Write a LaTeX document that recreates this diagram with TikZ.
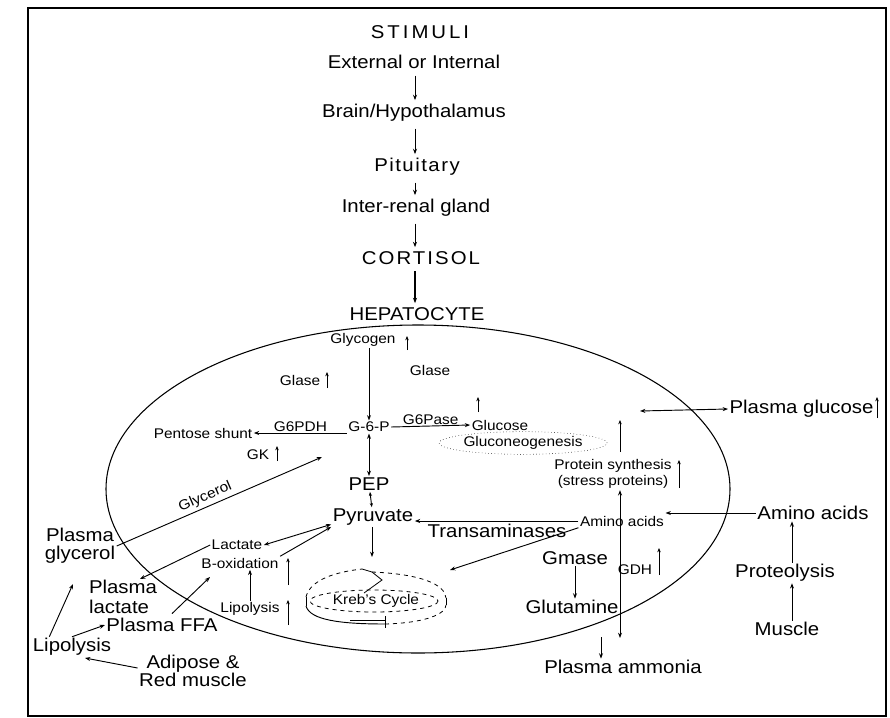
\documentclass[tikz,border=0pt]{standalone}
\usepackage{fontspec}
\setmainfont{Liberation Sans}[FakeStretch=1.1]
\usetikzlibrary{arrows.meta,calc,shapes.geometric}
\begin{document}
\begin{tikzpicture}[x=0.75pt,y=-0.75pt,
  big/.style={font=\fontsize{13.9}{14}\selectfont, inner sep=1pt},
  small/.style={font=\fontsize{10.5}{12}\selectfont, inner sep=1pt},
  flow/.style={line width=0.7pt, -{Stealth[length=4pt,width=3pt]}},
  both/.style={line width=0.7pt, {Stealth[length=4pt,width=3pt]}-{Stealth[length=4pt,width=3pt]}},
  bothsmall/.style={line width=0.7pt, {Stealth[length=3pt,width=2.4pt]}-{Stealth[length=3pt,width=2.4pt]}},
  rise/.style={line width=0.7pt, -{Stealth[length=3.2pt,width=2.6pt]}},
  casc/.style={flow, shorten <=4pt, shorten >=2pt},
  ring/.style={line width=0.6pt},
]
\useasboundingbox (0,0) rectangle (890,718);
\draw[line width=1pt] (28,8) rectangle (886,716);

% ---------- hormonal cascade ----------
\node[big] (stim)  at (420,32)  {\addfontfeatures{LetterSpace=16}STIMULI};
\node[big] (ext)   at (414,62)  {External or Internal};
\node[big] (brain) at (414,113) {Brain/Hypothalamus};
\node[big] (pit)   at (417,167) {\addfontfeatures{LetterSpace=8}Pituitary};
\node[big] (inter) at (416,208) {Inter-renal gland};
\node[big] (cort)  at (421,258) {\addfontfeatures{LetterSpace=11}CORTISOL};
\node[big] (hep)   at (417,314) {HEPATOCYTE};
\coordinate (axis) at (415,0);
\draw[casc] (ext.south -| axis)   -- (brain.north -| axis);
\draw[casc] (brain.south -| axis) -- (pit.north -| axis);
\draw[casc] (pit.south -| axis)   -- (inter.north -| axis);
\draw[casc] (inter.south -| axis) -- (cort.north -| axis);
\draw[casc, line width=0.9pt] (cort.south -| axis) -- (hep.north -| axis);

% ---------- the liver cell ----------
\draw[line width=0.8pt] (418,489) ellipse [x radius=312, y radius=164];

\node[small] (glycogen) at (363,340) {Glycogen};
\node[small] (glaseL)   at (300,380) {Glase};
\node[small] (glaseR)   at (430,370) {Glase};
\node[small] (g6p)      at (369,427) {G-6-P};
\node[small] (pentose)  at (203,433) {Pentose shunt};
\node[small] (gk)       at (258,455) {GK};
\node[big]   (pep)      at (369,484) {PEP};
\node[big]   (pyr)      at (373,517) {Pyruvate};
\node[small] (glucose)  at (500,425) {Glucose};
\node[small, draw, dotted, ellipse, inner sep=0pt, minimum width=73pt, minimum height=17pt] (gneo) at (523,443) {Gluconeogenesis};
\node[small, align=center, font=\fontsize{10.5}{12}\selectfont] (prot) at (613,474) {Protein synthesis\\(stress proteins)};
\node[small] (aas)      at (622,521) {Amino acids};
\node[big]   (trans)    at (497,531) {Transaminases};
\node[big]   (gmase)    at (575,558) {Gmase};
\node[big]   (glut)     at (572,607) {Glutamine};
\node[small] (gdh)      at (635,570) {GDH};
\node[small] (lact)     at (237,545) {Lactate};
\node[small] (box)      at (240,563) {B-oxidation};
\node[small] (lipin)    at (250,609) {Lipolysis};
\node[small] (krebs)    at (376,601) {Kreb's Cycle};

% ---------- outside the cell ----------
\node[big, anchor=west] (pglu) at (728,409) {Plasma glucose};
\node[big]   (aab)   at (813,513) {Amino acids};
\node[big]   (prot2) at (785,573) {Proteolysis};
\node[big]   (musc)  at (787,629) {Muscle};
\node[big]   (amm)   at (623,667) {Plasma ammonia};
\node[big, align=center, font=\fontsize{13.9}{13.5}\selectfont] (pgly) at (80,546) {Plasma\\glycerol};
\node[big, align=left, font=\fontsize{13.9}{15.5}\selectfont]   (plac) at (123,597) {Plasma\\lactate};
\node[big]   (pffa)   at (162,625) {Plasma FFA};
\node[big]   (lipout) at (72,647)  {Lipolysis};
\node[big, align=center, font=\fontsize{13.9}{13.5}\selectfont] (adip) at (193,671) {Adipose \&\\Red muscle};

% ---------- connectors ----------
\draw[flow] (glycogen.south -| g6p) -- (g6p.north);
\draw[flow] (g6p.west |- pentose) -- node[small, above] (g6pdh) {G6PDH} (pentose.east);
\draw[flow] (g6p.east) -- node[small, above] (g6pase) {G6Pase} (glucose.west);
\draw[both] (g6p) -- (pep);
\draw[bothsmall] (pep) -- (pyr);

\coordinate (glyin) at (322,457);
\draw[flow] (pgly.east) -- node[small, sloped, above=1pt, pos=0.45] (glyl) {Glycerol} (glyin);

\draw[both] (lact.east) -- (pyr.190);
\draw[flow] (box.north east) -- (pyr.south west);
\coordinate (lacttip) at (140,579);
\draw[flow] (lact.west) -- (lacttip);
\coordinate (boxin) at (210,577);
\draw[flow] ($(pffa.north)+(10,-3)$) -- (boxin);
\draw[flow] (lipout.north) -- (pffa.west);
\coordinate (glyout) at (73,584);
\draw[flow] (lipout.north west) ++(18,0) -- (glyout);
\coordinate (liptip) at (85,658);
\draw[flow] ($(adip.west)+(0,-3)$) -- (liptip);
\draw[flow] (lipin.north) -- (box.south -| lipin.north);

\coordinate (kin) at (372,557);
\draw[flow] (pyr.south -| kin) -- (kin);
\draw[flow] (aas.west) -- (pyr.east |- aas.west);
\coordinate (kin2) at (450,570);
\draw[flow] (aas.south west) -- (kin2);
\draw[flow] (aab.west) -- (aas.east |- aab.west);

\coordinate (col) at (792,0);
\draw[flow] (prot2.north -| col) -- (aab.south -| col);
\draw[flow] (musc.north -| col) -- (prot2.south -| col);

\draw[flow] (gmase.south) -- (glut.north -| gmase.south);
\coordinate (ammfrom) at (601,637);
\draw[flow] (ammfrom) -- (amm.north -| ammfrom);
\coordinate (vbot) at (620,638);
\draw[both] (prot.south -| vbot) -- (vbot);

\coordinate (gluout) at (640,411);
\draw[both] (gluout) -- (pglu.west);

% ---------- "increase" markers ----------
\coordinate (r1) at (407,350);  \draw[rise] (r1) -- ++(0,-14);
\coordinate (r2) at (327,388);  \draw[rise] (r2) -- ++(0,-16);
\coordinate (r3) at (478,412);  \draw[rise] (r3) -- ++(0,-15);
\coordinate (r4) at (277,461);  \draw[rise] (r4) -- ++(0,-15);
\coordinate (r5) at (620,452);  \draw[rise] (r5) -- ++(0,-32);
\coordinate (r6) at (877,418);  \draw[rise] (r6) -- ++(0,-21);
\coordinate (r7) at (679,488);  \draw[rise] (r7) -- ++(0,-28);
\coordinate (r8) at (659,575);  \draw[rise] (r8) -- ++(0,-27);
\coordinate (r9) at (288,585);  \draw[rise] (r9) -- ++(0,-27);
\coordinate (r10) at (288,625); \draw[rise] (r10) -- ++(0,-25);

% ---------- Krebs cycle ring ----------
\draw[ring, dashed] (374,601) ellipse [x radius=64, y radius=11];
% upper rim, broken by the hollow arrow head
\draw[ring, dashed] (306,597) .. controls (310,580) and (335,572) .. (362,569);
\draw[ring] (362,569) -- (372,572);
\draw[ring, dashed] (372,572) .. controls (420,574) and (445,584) .. (446,598);
\draw[ring] (372,572) -- (382,580) -- (364,593);
% side walls
\draw[ring] (306,597) -- (306,606);
\draw[ring] (446,598) -- (446,605);
% lower rim
\draw[line width=0.7pt] (306,606) .. controls (310,620) and (340,624) .. (385,624);
\draw[ring, dashed] (385,624) .. controls (425,623) and (446,614) .. (446,605);
% tail of the band
\draw[ring] (350,620) -- (385,620);
\draw[ring] (385,616) -- (385,628);
\end{tikzpicture}
\end{document}
